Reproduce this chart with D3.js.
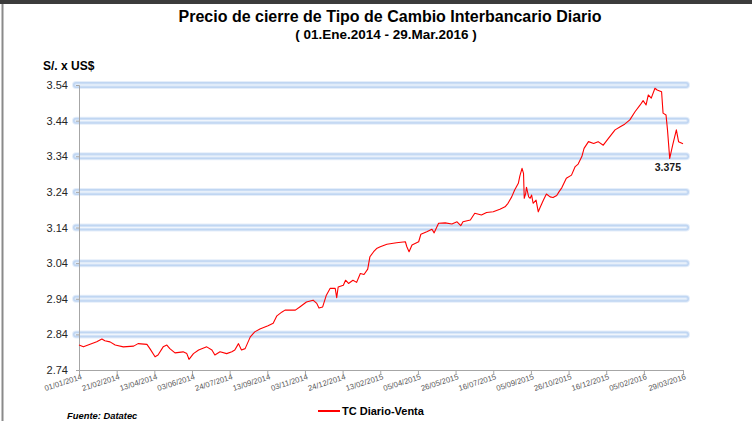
<!DOCTYPE html>
<html>
<meta charset="utf-8">
<head>
    <title>Tipo de Cambio Interbancario</title>
</head>
<style>
    body { margin: 0; background: #fff; }
    svg text { font-family: "Liberation Sans", Arial, sans-serif; }
</style>
<script src="https://d3js.org/d3.v7.min.js"></script>
<body>
<div id="chart"></div>
<script>

// fechas y precio de cierre (venta)
var fechas = ["2014-01-01","2014-01-07","2014-01-16","2014-01-25","2014-02-01","2014-02-05","2014-02-12","2014-02-19",
  "2014-03-02","2014-03-16","2014-03-22","2014-04-03","2014-04-07","2014-04-14","2014-04-18","2014-04-25","2014-04-30",
  "2014-05-04","2014-05-11","2014-05-22","2014-05-27","2014-05-30","2014-06-05","2014-06-12","2014-06-23","2014-06-30",
  "2014-07-04","2014-07-11","2014-07-20","2014-07-27","2014-07-31","2014-08-05","2014-08-09","2014-08-14","2014-08-21",
  "2014-08-27","2014-09-03","2014-09-14","2014-09-21","2014-09-26","2014-10-03","2014-10-07","2014-10-21","2014-10-27",
  "2014-11-05","2014-11-14","2014-11-19","2014-11-22","2014-11-27","2014-12-02","2014-12-07","2014-12-14","2014-12-16",
  "2014-12-18","2014-12-25","2014-12-28","2015-01-01","2015-01-07","2015-01-12","2015-01-17","2015-01-22","2015-01-27",
  "2015-01-30","2015-02-04","2015-02-08","2015-02-13","2015-02-22","2015-03-07","2015-03-19","2015-03-21","2015-03-24",
  "2015-03-28","2015-04-06","2015-04-09","2015-04-17","2015-04-24","2015-04-27","2015-05-03","2015-05-12","2015-05-21",
  "2015-05-28","2015-06-02","2015-06-05","2015-06-15","2015-06-21","2015-06-30","2015-07-07","2015-07-16","2015-07-25",
  "2015-08-01","2015-08-05","2015-08-10","2015-08-14","2015-08-19","2015-08-21","2015-08-24","2015-08-26","2015-08-27",
  "2015-08-29","2015-08-30","2015-09-02","2015-09-04","2015-09-06","2015-09-08","2015-09-12","2015-09-15","2015-09-17",
  "2015-09-22","2015-09-26","2015-10-01","2015-10-05","2015-10-10","2015-10-13","2015-10-17","2015-10-23","2015-10-30",
  "2015-11-04","2015-11-08","2015-11-13","2015-11-16","2015-11-22","2015-11-29","2015-12-05","2015-12-12","2015-12-19",
  "2015-12-28","2016-01-04","2016-01-10","2016-01-17","2016-01-24","2016-01-31","2016-02-04","2016-02-08","2016-02-11",
  "2016-02-15","2016-02-20","2016-02-23","2016-02-29","2016-03-02","2016-03-06","2016-03-08","2016-03-11","2016-03-15",
  "2016-03-20","2016-03-23","2016-03-29"]

var venta = [2.810,2.805,2.812,2.819,2.827,2.822,2.819,2.810,
  2.805,2.807,2.814,2.812,2.800,2.777,2.782,2.805,2.810,
  2.800,2.788,2.791,2.786,2.770,2.786,2.796,2.805,2.796,
  2.782,2.791,2.786,2.791,2.796,2.814,2.796,2.800,2.833,
  2.847,2.855,2.864,2.871,2.892,2.903,2.908,2.908,2.917,
  2.931,2.936,2.927,2.914,2.917,2.950,2.969,2.969,2.943,
  2.973,2.978,2.992,2.983,2.992,2.986,3.011,3.008,3.023,
  3.058,3.072,3.081,3.086,3.093,3.097,3.100,3.086,3.072,
  3.091,3.100,3.121,3.128,3.135,3.125,3.152,3.153,3.150,
  3.156,3.145,3.156,3.161,3.180,3.175,3.182,3.184,3.191,
  3.198,3.208,3.226,3.245,3.264,3.284,3.306,3.292,3.222,
  3.236,3.253,3.226,3.222,3.231,3.208,3.217,3.184,3.194,
  3.217,3.234,3.226,3.224,3.230,3.240,3.252,3.278,3.287,
  3.311,3.318,3.339,3.362,3.381,3.376,3.381,3.371,3.390,
  3.414,3.423,3.430,3.442,3.465,3.484,3.496,3.484,3.512,
  3.503,3.531,3.526,3.521,3.461,3.456,3.414,3.334,3.371,
  3.414,3.381,3.375]

var tickFechas = ["01/01/2014","21/02/2014","13/04/2014","03/06/2014","24/07/2014","13/09/2014","03/11/2014",
  "24/12/2014","13/02/2015","05/04/2015","26/05/2015","16/07/2015","05/09/2015","26/10/2015","16/12/2015",
  "05/02/2016","29/03/2016"]
var yTicks = [2.74, 2.84, 2.94, 3.04, 3.14, 3.24, 3.34, 3.44, 3.54]

var width = 752, height = 421

var parseISO = d3.timeParse("%Y-%m-%d")
var parseDMY = d3.timeParse("%d/%m/%Y")

var data = fechas.map(function(f, i) { return {fecha: parseISO(f), valor: venta[i]} })

var svg = d3.select("#chart").append("svg")
  .attr("width", width)
  .attr("height", height)

// marco de la captura
svg.append("rect").attr("x", 0).attr("y", 0).attr("width", width).attr("height", 4).attr("fill", "#3c3c3c")
svg.append("line").attr("x1", 2.5).attr("x2", 2.5).attr("y1", 4).attr("y2", height)
  .attr("stroke", "#8a8a8a").attr("stroke-width", 2)

var x = d3.scaleTime()
  .domain([parseISO("2014-01-01"), parseISO("2016-03-29")])
  .range([79, 683])

var y = d3.scaleLinear()
  .domain([2.74, 3.54])
  .range([370, 85])

// gridlines con brillo azul
var grid = svg.append("g")
var gridVals = yTicks.slice(1)
var layers = [
  {w: 8, c: "#e5eefa"},
  {w: 6, c: "#c0d6f2"},
  {w: 3, c: "#d3e3f7"},
  {w: 1.2, c: "#f0f5fc"}
]
layers.forEach(function(l) {
  grid.selectAll(null)
    .data(gridVals).enter()
    .append("line")
    .attr("x1", 76).attr("x2", 686)
    .attr("y1", function(d) { return y(d) }).attr("y2", function(d) { return y(d) })
    .attr("stroke", l.c)
    .attr("stroke-width", l.w)
    .attr("stroke-linecap", "round")
})

// eje Y
var yAxis = svg.append("g")
  .attr("transform", "translate(79,0)")
  .call(d3.axisLeft(y).tickValues(yTicks).tickFormat(d3.format(".2f")).tickSize(3).tickPadding(8))
yAxis.select(".domain").attr("stroke", "#a6a6a6")
yAxis.selectAll(".tick line").attr("stroke", "#a6a6a6")
yAxis.selectAll("text")
  .attr("font-size", "11px")
  .attr("fill", "#262626")
  .attr("font-family", "Liberation Sans, Arial, sans-serif")

// eje X
var xAxis = svg.append("g")
  .attr("transform", "translate(0,370)")
  .call(d3.axisBottom(x).tickValues(tickFechas.map(parseDMY)).tickFormat(d3.timeFormat("%d/%m/%Y")).tickSize(4).tickSizeOuter(0))
xAxis.select(".domain").attr("stroke", "#a6a6a6")
xAxis.selectAll(".tick line").attr("stroke", "#a6a6a6")
xAxis.selectAll("text")
  .attr("font-size", "7.8px")
  .attr("fill", "#595959")
  .attr("font-family", "Liberation Sans, Arial, sans-serif")
  .attr("text-anchor", "end")
  .attr("y", 0).attr("dy", 0)
  .attr("transform", "translate(3,9) rotate(-18)")

// linea
var line = d3.line()
  .x(function(d) { return x(d.fecha) })
  .y(function(d) { return y(d.valor) })

svg.append("path")
  .datum(data)
  .attr("d", line)
  .attr("fill", "none")
  .attr("stroke", "#ff0000")
  .attr("stroke-width", 1.1)
  .attr("stroke-linejoin", "round")

// etiqueta ultimo valor
var ultimo = data[data.length - 1]
svg.append("text")
  .attr("x", x(ultimo.fecha) - 2)
  .attr("y", y(ultimo.valor) + 27)
  .attr("text-anchor", "end")
  .attr("font-size", "10.5px")
  .attr("font-weight", "bold")
  .attr("fill", "#1a1a1a")
  .text(d3.format(".3f")(ultimo.valor))

// titulos
svg.append("text")
  .attr("x", 390).attr("y", 22)
  .attr("text-anchor", "middle")
  .attr("font-size", "16px")
  .attr("font-weight", "bold")
  .attr("fill", "#000")
  .text("Precio de cierre de Tipo de Cambio Interbancario Diario")

svg.append("text")
  .attr("x", 386).attr("y", 39)
  .attr("text-anchor", "middle")
  .attr("font-size", "13.5px")
  .attr("font-weight", "bold")
  .attr("fill", "#000")
  .text("( 01.Ene.2014 - 29.Mar.2016 )")

svg.append("text")
  .attr("x", 43).attr("y", 70)
  .attr("font-size", "12px")
  .attr("font-weight", "bold")
  .attr("fill", "#000")
  .text("S/. x US$")

// leyenda y fuente
svg.append("line")
  .attr("x1", 318).attr("x2", 340).attr("y1", 411).attr("y2", 411)
  .attr("stroke", "#ff0000").attr("stroke-width", 2)
svg.append("text")
  .attr("x", 342).attr("y", 415)
  .attr("font-size", "11px")
  .attr("font-weight", "bold")
  .attr("fill", "#000")
  .text("TC Diario-Venta")

svg.append("text")
  .attr("x", 67).attr("y", 419)
  .attr("font-size", "9.4px")
  .attr("font-weight", "bold")
  .attr("font-style", "italic")
  .attr("fill", "#000")
  .text("Fuente: Datatec")

</script>
</body>
</html>
